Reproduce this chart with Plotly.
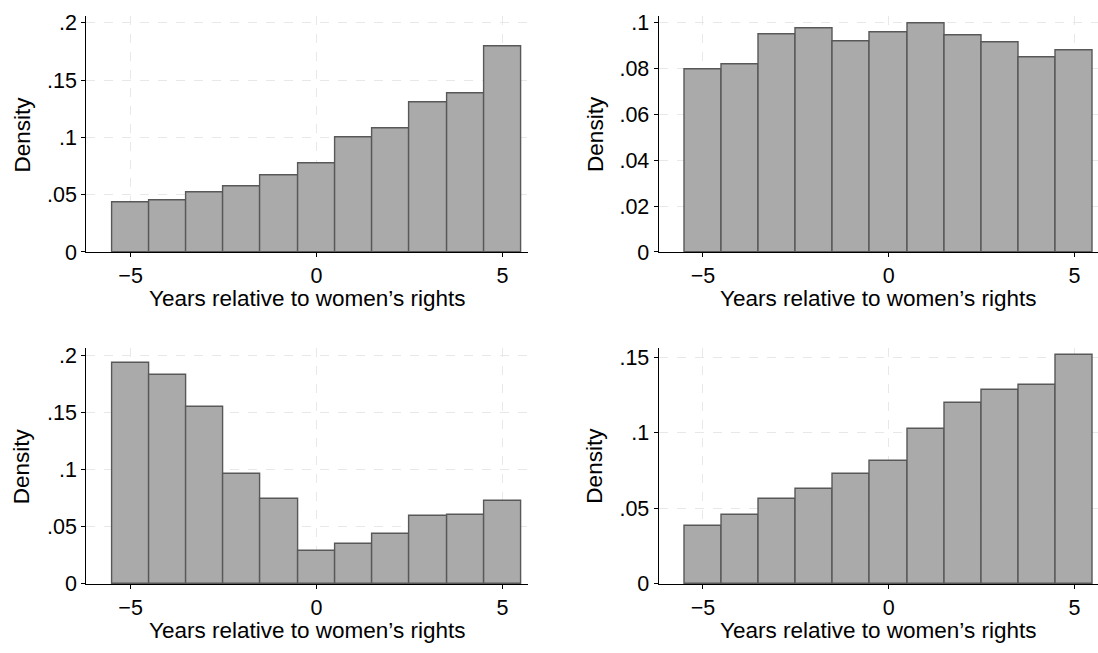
import plotly.graph_objects as go

# ---- data ----
years = [-5, -4, -3, -2, -1, 0, 1, 2, 3, 4, 5]
density_a = [0.0431, 0.0448, 0.0524, 0.0575, 0.0666, 0.0776, 0.1000, 0.1076, 0.1309, 0.1388, 0.1790]
density_b = [0.0796, 0.0819, 0.0950, 0.0976, 0.0918, 0.0958, 0.0997, 0.0945, 0.0914, 0.0848, 0.0878]
density_c = [0.1935, 0.1830, 0.1547, 0.0958, 0.0745, 0.0292, 0.0348, 0.0433, 0.0592, 0.0606, 0.0722]
density_d = [0.0386, 0.0459, 0.0560, 0.0631, 0.0725, 0.0815, 0.1026, 0.1200, 0.1285, 0.1315, 0.1517]

xtick_vals = [-5, 0, 5]
xtick_text = ["\u22125", "0", "5"]
ytick_vals_a = [0, 0.05, 0.1, 0.15, 0.2]
ytick_text_a = ["0", ".05", ".1", ".15", ".2"]
ytick_vals_b = [0, 0.02, 0.04, 0.06, 0.08, 0.1]
ytick_text_b = ["0", ".02", ".04", ".06", ".08", ".1"]
ytick_vals_d = [0, 0.05, 0.1, 0.15]
ytick_text_d = ["0", ".05", ".1", ".15"]

x_title = "Years relative to women\u2019s rights"
y_title = "Density"

FONT = "Liberation Sans, Arial, sans-serif"
TICK_SIZE = 21.5
TITLE_SIZE = 22.5
W, H = 1098, 653

panels = [
    # (values, yticks, ytext, ytop, xdomain, ydomain, xrange)
    (density_a, ytick_vals_a, ytick_text_a, 0.2056, [86.3 / W, 527.9 / W], [1 - 254 / H, 1 - 11.7 / H], [-6.19, 5.68]),
    (density_b, ytick_vals_b, ytick_text_b, 0.1028, [658.7 / W, 1.0], [1 - 254 / H, 1 - 11.7 / H], [-6.19, 5.635]),
    (density_c, ytick_vals_a, ytick_text_a, 0.2062, [86.3 / W, 527.9 / W], [1 - 595.3 / H, 1 - 352.7 / H], [-6.19, 5.68]),
    (density_d, ytick_vals_d, ytick_text_d, 0.1562, [658.7 / W, 1.0], [1 - 595.3 / H, 1 - 352.7 / H], [-6.19, 5.635]),
]

fig = go.Figure()
layout = dict(
    width=W, height=H,
    margin=dict(l=0, r=0, t=0, b=0),
    paper_bgcolor="white", plot_bgcolor="white",
    showlegend=False,
    font=dict(family=FONT, size=TICK_SIZE, color="black"),
    bargap=0,
)
annotations = []
for i, (vals, yv, yt, ytop, xd, yd, xr) in enumerate(panels, start=1):
    xa = "x" if i == 1 else f"x{i}"
    ya = "y" if i == 1 else f"y{i}"
    fig.add_trace(go.Bar(
        x=years, y=vals, width=1,
        marker=dict(color="#aaaaaa", line=dict(color="#585858", width=1.4)),
        xaxis=xa, yaxis=ya, hoverinfo="skip",
    ))
    key = "" if i == 1 else str(i)
    layout["xaxis" + key] = dict(
        domain=xd, anchor=ya, range=xr,
        tickmode="array", tickvals=xtick_vals, ticktext=xtick_text,
        ticks="outside", ticklen=4, tickcolor="black", tickwidth=1,
        showline=True, linecolor="black", linewidth=1.2,
        showgrid=True, gridcolor="#e8e8e8", griddash="dash", gridwidth=1,
        zeroline=False, tickfont=dict(size=TICK_SIZE, family=FONT),
    )
    layout["yaxis" + key] = dict(
        domain=yd, anchor=xa, range=[0, ytop],
        tickmode="array", tickvals=yv, ticktext=yt,
        ticks="outside", ticklen=4, tickcolor="black", tickwidth=1,
        showline=True, linecolor="black", linewidth=1.2,
        showgrid=True, gridcolor="#e8e8e8", griddash="dash", gridwidth=1,
        zeroline=False, tickfont=dict(size=TICK_SIZE, family=FONT),
    )
    annotations.append(dict(
        text=y_title, xref=f"{xa} domain", yref=f"{ya} domain",
        x=0, y=0.5, xshift=-64, xanchor="center", yanchor="middle",
        textangle=-90, showarrow=False, font=dict(size=TITLE_SIZE, family=FONT),
    ))
    annotations.append(dict(
        text=x_title, xref=f"{xa} domain", yref=f"{ya} domain",
        x=0.5, y=0, yshift=-47, xanchor="center", yanchor="middle",
        showarrow=False, font=dict(size=TITLE_SIZE, family=FONT),
    ))
layout["annotations"] = annotations
fig.update_layout(**layout)
fig.write_html("out.html")
